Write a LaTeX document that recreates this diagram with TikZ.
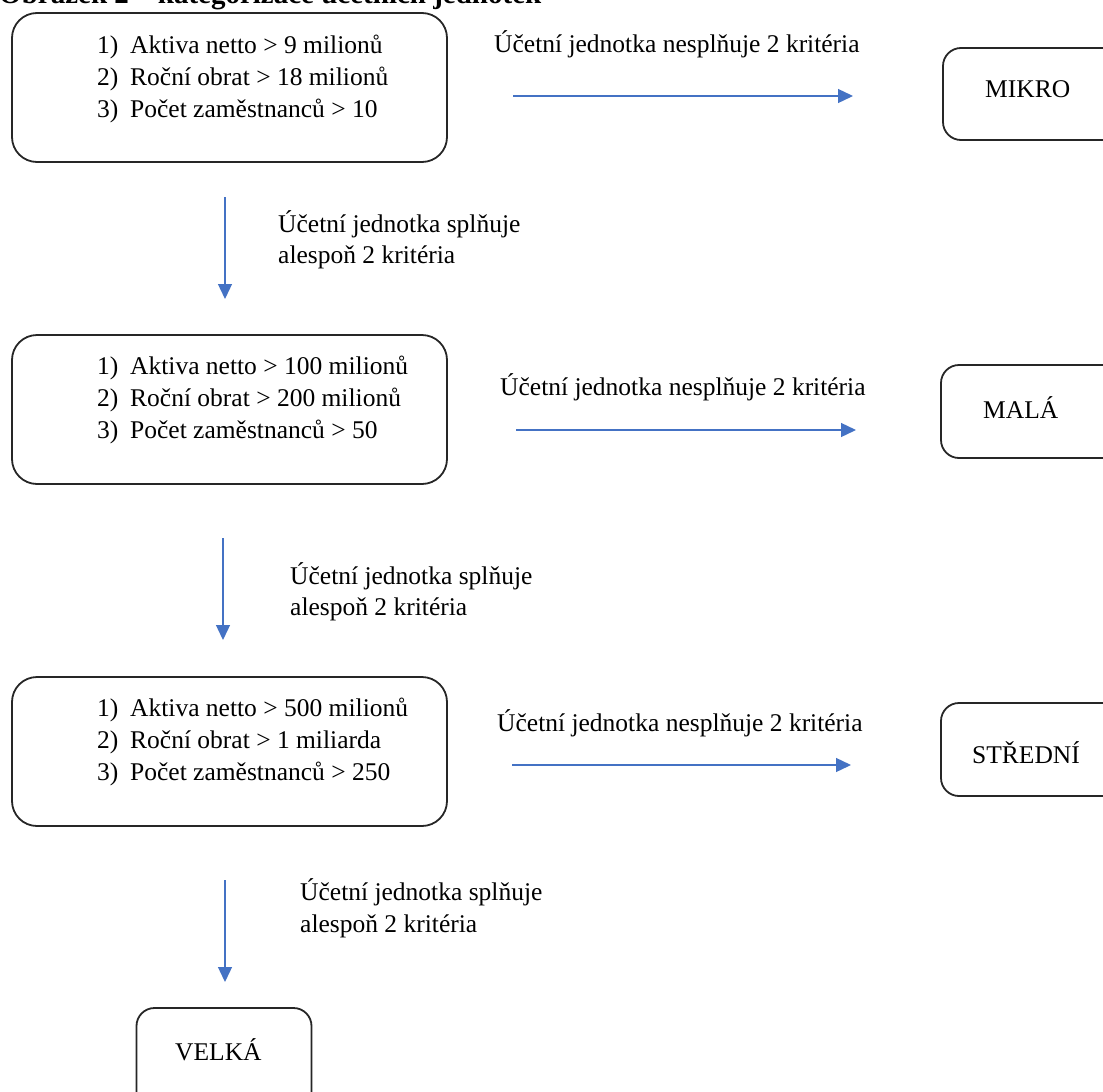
\documentclass[tikz,border=0pt]{standalone}
\usepackage{fontspec}
\setmainfont{Liberation Serif}
\usetikzlibrary{arrows.meta}
\begin{document}
\begin{tikzpicture}[x=1pt,y=-1pt,
  txt/.style={anchor=base west,inner sep=0pt,font=\fontsize{25.5}{30}\selectfont},
  crit/.style={draw=black!85,line width=1.8pt,rounded corners=25pt,minimum width=435pt,minimum height=149pt,inner sep=0pt},
  res/.style={draw=black!85,line width=1.8pt,rounded corners=18pt,inner sep=0pt},
  flow/.style={draw={rgb,255:red,68;green,114;blue,196},line width=1.3pt,-{Triangle[length=15pt,width=14pt]},fill={rgb,255:red,68;green,114;blue,196}}]
\useasboundingbox (0,0) rectangle (1103,1092);
\clip (0,0) rectangle (1103,1092);
% title (cut off at top)
\node[txt,font=\fontsize{29}{32}\selectfont\bfseries] (title) at (-1,4) {Obrázek 2 – kategorizace účetních jednotek};
% criteria boxes
\node[crit] (b1) at (229.5,87.5) {};
\node[crit] (b2) at (229.5,409.5) {};
\node[crit] (b3) at (229.5,751.5) {};
% box 1 text
\node[txt] (b1n1) at (97,53) {1)}; \node[txt] (b1t1) at (130,53) {Aktiva netto > 9 milionů};
\node[txt] (b1n2) at (97,85) {2)}; \node[txt] (b1t2) at (130,85) {Roční obrat > 18 milionů};
\node[txt] (b1n3) at (97,117) {3)}; \node[txt] (b1t3) at (130,117) {Počet zaměstnanců > 10};
% box 2 text
\node[txt] (b2n1) at (97,374) {1)}; \node[txt] (b2t1) at (130,374) {Aktiva netto > 100 milionů};
\node[txt] (b2n2) at (97,406) {2)}; \node[txt] (b2t2) at (130,406) {Roční obrat > 200 milionů};
\node[txt] (b2n3) at (97,438) {3)}; \node[txt] (b2t3) at (130,438) {Počet zaměstnanců > 50};
% box 3 text
\node[txt] (b3n1) at (97,716) {1)}; \node[txt] (b3t1) at (130,716) {Aktiva netto > 500 milionů};
\node[txt] (b3n2) at (97,748) {2)}; \node[txt] (b3t2) at (130,748) {Roční obrat > 1 miliarda};
\node[txt] (b3n3) at (97,780) {3)}; \node[txt] (b3t3) at (130,780) {Počet zaměstnanců > 250};
% result boxes
\node[res,minimum width=200pt,minimum height=92pt] (mikro) at (1043,94) {};
\node[txt] (mikrot) at (985,97) {MIKRO};
\node[res,minimum width=200pt,minimum height=93pt] (mala) at (1041,411.5) {};
\node[txt] (malat) at (983,418) {MALÁ};
\node[res,minimum width=200pt,minimum height=93pt] (stredni) at (1041,749.5) {};
\node[txt] (strednit) at (972,763) {STŘEDNÍ};
\node[res,minimum width=175pt,minimum height=120pt] (velka) at (224,1068) {};
\node[txt] (velkat) at (175,1060) {VELKÁ};
% horizontal arrows
\coordinate (h1s) at (513,96); \coordinate (h1e) at (853,96);
\coordinate (h2s) at (516,430); \coordinate (h2e) at (856,430);
\coordinate (h3s) at (512,765); \coordinate (h3e) at (851,765);
\draw[flow] (h1s) -- (h1e);
\draw[flow] (h2s) -- (h2e);
\draw[flow] (h3s) -- (h3e);
\node[txt] (l1) at (494,52) {Účetní jednotka nesplňuje 2 kritéria};
\node[txt] (l2) at (500,395) {Účetní jednotka nesplňuje 2 kritéria};
\node[txt] (l3) at (497,731) {Účetní jednotka nesplňuje 2 kritéria};
% vertical arrows
\coordinate (v1s) at (225,197); \coordinate (v1e) at (225,299);
\coordinate (v2s) at (223,538); \coordinate (v2e) at (223,640);
\coordinate (v3s) at (225,880); \coordinate (v3e) at (225,982);
\draw[flow] (v1s) -- (v1e);
\draw[flow] (v2s) -- (v2e);
\draw[flow] (v3s) -- (v3e);
\node[txt] (d1a) at (278,232) {Účetní jednotka splňuje};
\node[txt] (d1b) at (278,263) {alespoň 2 kritéria};
\node[txt] (d2a) at (290,584) {Účetní jednotka splňuje};
\node[txt] (d2b) at (290,615) {alespoň 2 kritéria};
\node[txt] (d3a) at (300,900) {Účetní jednotka splňuje};
\node[txt] (d3b) at (300,932) {alespoň 2 kritéria};
\end{tikzpicture}
\end{document}
